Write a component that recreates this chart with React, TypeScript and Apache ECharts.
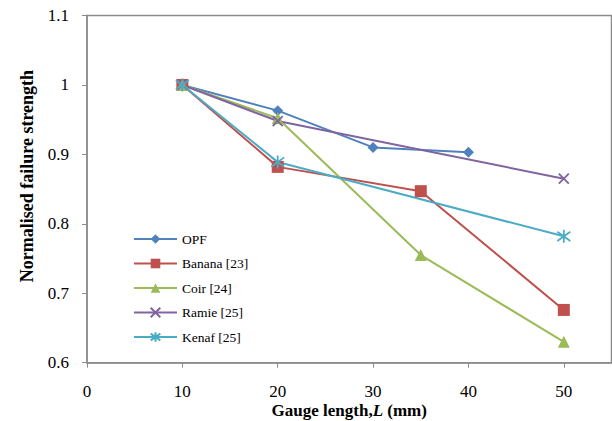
import React, { useEffect, useRef } from "react";
import * as echarts from "echarts";

const seriesNames = ["OPF", "Banana [23]", "Coir [24]", "Ramie [25]", "Kenaf [25]"];
const opf: [number, number][] = [[10, 1.0], [20, 0.963], [30, 0.91], [40, 0.903]];
const banana: [number, number][] = [[10, 1.0], [20, 0.882], [35, 0.847], [50, 0.676]];
const coir: [number, number][] = [[10, 1.0], [20, 0.952], [35, 0.755], [50, 0.63]];
const ramie: [number, number][] = [[10, 1.0], [20, 0.948], [50, 0.865]];
const kenaf: [number, number][] = [[10, 1.0], [20, 0.889], [50, 0.782]];
const colors = ["#4F81BD", "#C0504D", "#9BBB59", "#8064A2", "#4BACC6"];

const FONT = "Liberation Serif";

export default function App() {
  const ref = useRef<HTMLDivElement>(null);
  useEffect(() => {
    if (!ref.current) return;
    const chart = echarts.init(ref.current, undefined, { renderer: "svg" });
    const datas = [opf, banana, coir, ramie, kenaf];
    const symbols = [
      "diamond",
      "rect",
      "triangle",
      "path://M0,0L10,10M10,0L0,10",
      "path://M0,0L10,10M10,0L0,10M5,-2L5,12",
    ];
    const sizes = [11, 12, 12, 10, 13];
    const stroked = [false, false, false, true, true];
    chart.setOption({
      animation: false,
      textStyle: { fontFamily: FONT },
      grid: {
        left: 87,
        top: 15.5,
        right: 0.5,
        bottom: 58.3,
        containLabel: false,
        outerBoundsMode: "none",
        show: true,
        borderColor: "#8c8c8c",
        borderWidth: 1.5,
      },
      legend: {
        orient: "vertical",
        left: 133,
        top: 232,
        padding: 0,
        itemWidth: 43,
        itemHeight: 12,
        itemGap: 10.5,
        data: seriesNames,
        textStyle: { fontFamily: FONT, fontSize: 13.5, color: "#000" },
      },
      xAxis: {
        type: "value",
        min: 0,
        max: 55,
        interval: 10,
        splitLine: { show: false },
        axisLine: { lineStyle: { color: "#8c8c8c", width: 1.5 } },
        axisTick: { show: true, length: 5, lineStyle: { color: "#8c8c8c" } },
        axisLabel: {
          showMaxLabel: false,
          margin: 20,
          fontFamily: FONT,
          fontSize: 17,
          color: "#000",
        },
        name: "Gauge length,{i|L} (mm)",
        nameLocation: "middle",
        nameGap: 39,
        nameMoveOverlap: false,
        nameTextStyle: {
          fontFamily: FONT,
          fontSize: 17,
          lineHeight: 17,
          fontWeight: "bold",
          color: "#000",
          rich: {
            i: { fontFamily: FONT, fontSize: 17, lineHeight: 17, fontWeight: "bold", fontStyle: "italic", color: "#000" },
          },
        },
      },
      yAxis: {
        type: "value",
        min: 0.6,
        max: 1.1,
        interval: 0.1,
        splitLine: { show: false },
        axisLine: { show: true, lineStyle: { color: "#8c8c8c", width: 1.5 } },
        axisTick: { show: true, length: 5, lineStyle: { color: "#8c8c8c" } },
        axisLabel: {
          margin: 18,
          fontFamily: FONT,
          fontSize: 17,
          color: "#000",
          formatter: (v: number) => String(parseFloat(v.toFixed(1))),
        },
        name: "Normalised failure strength",
        nameLocation: "middle",
        nameGap: 51,
        nameMoveOverlap: false,
        nameTextStyle: {
          fontFamily: FONT,
          fontSize: 18,
          fontWeight: "bold",
          color: "#000",
          padding: [0, 0, 0, 26],
        },
      },
      series: datas.map((d, i) => ({
        name: seriesNames[i],
        type: "line",
        data: d,
        symbol: symbols[i],
        symbolSize: sizes[i],
        showSymbol: true,
        lineStyle: { color: colors[i], width: 2 },
        itemStyle: stroked[i]
          ? { color: "rgba(0,0,0,0)", borderColor: colors[i], borderWidth: 1.8 }
          : { color: colors[i], borderColor: colors[i], borderWidth: 0 },
        emphasis: { disabled: true },
      })),
    });
    return () => chart.dispose();
  }, []);
  return <div ref={ref} style={{ width: 612, height: 421, position: "absolute", left: 0, top: 0 }} />;
}
